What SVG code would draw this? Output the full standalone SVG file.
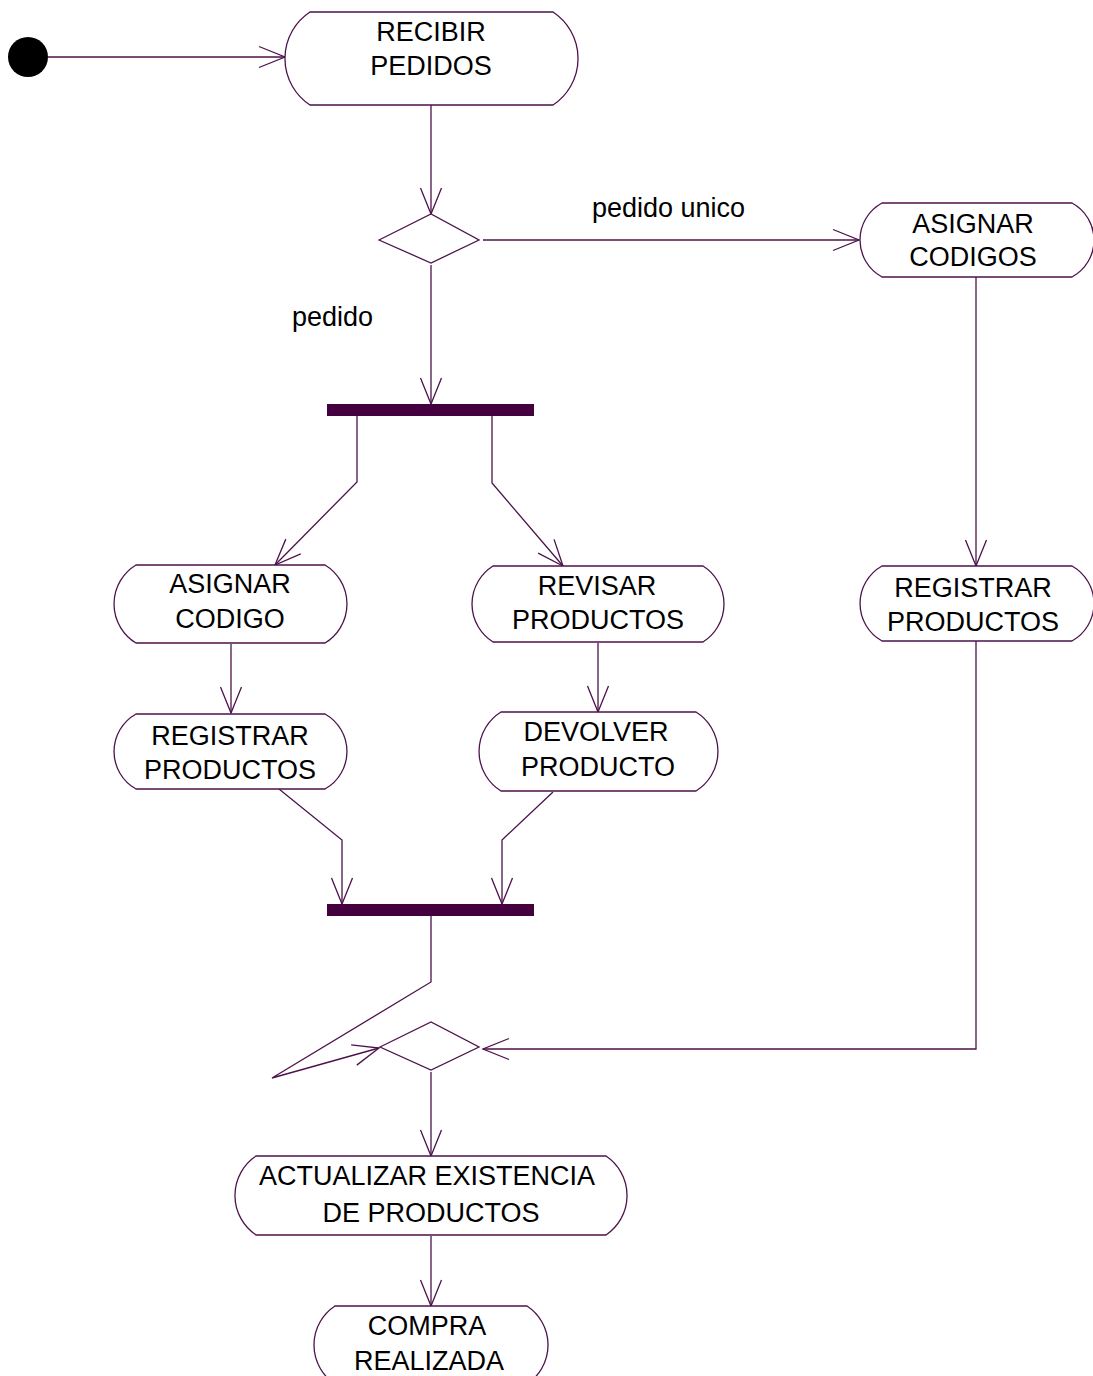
<svg xmlns="http://www.w3.org/2000/svg" width="1093" height="1376" viewBox="0 0 1093 1376">
  <style>
    .act { fill: #ffffff; stroke: #4d124b; stroke-width: 1.3; }
    .lbl { font-family: "Liberation Sans", Arial, sans-serif; font-size: 27px; fill: #000000; text-anchor: middle; }
    .guard { font-family: "Liberation Sans", Arial, sans-serif; font-size: 27px; fill: #000000; }
    .bar { fill: #44003f; }
    .flow { fill: none; stroke: #4d124b; stroke-width: 1.3; marker-end: url(#open); }
    .dec { fill: #ffffff; stroke: #4d124b; stroke-width: 1.3; }
  </style>
  <defs>
    <marker id="open" markerUnits="userSpaceOnUse" markerWidth="30" markerHeight="26" refX="27" refY="12" orient="auto" overflow="visible">
      <path d="M1,1.5 L27,12 L1,22.5" fill="none" stroke="#4d124b" stroke-width="1.3"/>
    </marker>
  </defs>

  <rect width="1093" height="1376" fill="#ffffff"/>

  <!-- transitions -->
  <g id="connectors">
    <path class="flow" d="M48,57 H285"/>
    <path class="flow" d="M431,105 V214"/>
    <path class="flow" d="M483,240 H859"/>
    <path class="flow" d="M431,265 V404"/>
    <path class="flow" d="M357,416 V482 L275,565"/>
    <path class="flow" d="M492,416 V483 L563,566"/>
    <path class="flow" d="M231,644 V713"/>
    <path class="flow" d="M598,643 V712"/>
    <path class="flow" d="M279,789 L342,840 V904"/>
    <path class="flow" d="M553,792 L502,840 V904"/>
    <path class="flow" d="M431,916 V982 L272,1078 L379,1048"/>
    <path class="flow" d="M976,277 V566"/>
    <path class="flow" d="M976,641 V1049 H483"/>
    <path class="flow" d="M431,1072 V1156"/>
    <path class="flow" d="M431,1236 V1306"/>
    <text class="guard" x="592" y="217">pedido unico</text>
    <text class="guard" x="292" y="326">pedido</text>
  </g>

  <!-- initial state -->
  <g id="start">
    <circle cx="28" cy="57" r="20" fill="#000000"/>
  </g>

  <g id="recibir-pedidos">
    <path class="act" d="M310,12 H553 A55.7,55.7 0 0 1 553,105 H310 A55.7,55.7 0 0 1 310,12 Z"/>
    <text class="lbl" x="431" y="41">RECIBIR</text>
    <text class="lbl" x="431" y="75">PEDIDOS</text>
  </g>

  <g id="decision-pedido">
    <path class="dec" d="M379,240 L431,214 L479,240 L431,263 Z"/>
  </g>

  <g id="asignar-codigos">
    <path class="act" d="M882,203 H1072 A42.1,42.1 0 0 1 1072,277 H882 A42.1,42.1 0 0 1 882,203 Z"/>
    <text class="lbl" x="973" y="233">ASIGNAR</text>
    <text class="lbl" x="973" y="266">CODIGOS</text>
  </g>

  <g id="fork">
    <rect class="bar" x="327" y="404" width="207" height="12"/>
  </g>

  <g id="asignar-codigo">
    <path class="act" d="M136,565 H325 A45.6,45.6 0 0 1 325,643 H136 A45.6,45.6 0 0 1 136,565 Z"/>
    <text class="lbl" x="230" y="593">ASIGNAR</text>
    <text class="lbl" x="230" y="628">CODIGO</text>
  </g>

  <g id="registrar-productos-1">
    <path class="act" d="M136,714 H325 A43,43 0 0 1 325,789 H136 A43,43 0 0 1 136,714 Z"/>
    <text class="lbl" x="230" y="745">REGISTRAR</text>
    <text class="lbl" x="230" y="779">PRODUCTOS</text>
  </g>

  <g id="revisar-productos">
    <path class="act" d="M493,566 H703 A44.9,44.9 0 0 1 703,642 H493 A44.9,44.9 0 0 1 493,566 Z"/>
    <text class="lbl" x="597" y="595">REVISAR</text>
    <text class="lbl" x="598" y="629">PRODUCTOS</text>
  </g>

  <g id="devolver-producto">
    <path class="act" d="M501,712 H696 A46.5,46.5 0 0 1 696,791 H501 A46.5,46.5 0 0 1 501,712 Z"/>
    <text class="lbl" x="596" y="741">DEVOLVER</text>
    <text class="lbl" x="598" y="776">PRODUCTO</text>
  </g>

  <g id="registrar-productos-2">
    <path class="act" d="M882,566 H1072 A43,43 0 0 1 1072,641 H882 A43,43 0 0 1 882,566 Z"/>
    <text class="lbl" x="973" y="597">REGISTRAR</text>
    <text class="lbl" x="973" y="631">PRODUCTOS</text>
  </g>

  <g id="join">
    <rect class="bar" x="327" y="904" width="207" height="12"/>
  </g>

  <g id="merge">
    <path class="dec" d="M380,1047 L431,1022 L479,1047 L431,1070 Z"/>
  </g>

  <g id="actualizar-existencia">
    <path class="act" d="M256,1156 H606 A47.6,47.6 0 0 1 606,1235 H256 A47.6,47.6 0 0 1 256,1156 Z"/>
    <text class="lbl" x="427" y="1185">ACTUALIZAR EXISTENCIA</text>
    <text class="lbl" x="431" y="1222">DE PRODUCTOS</text>
  </g>

  <g id="compra-realizada">
    <path class="act" d="M335,1306 H527 A46.7,46.7 0 0 1 527,1384 H335 A46.7,46.7 0 0 1 335,1306 Z"/>
    <text class="lbl" x="427" y="1335">COMPRA</text>
    <text class="lbl" x="429" y="1370">REALIZADA</text>
  </g>
</svg>
